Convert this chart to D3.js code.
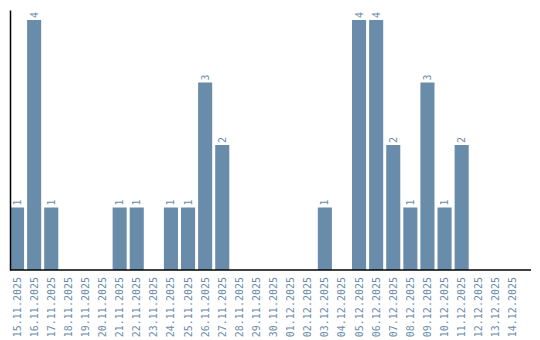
<!DOCTYPE html>
<html><head><meta charset="utf-8">
<script src="https://cdn.jsdelivr.net/npm/d3@7"></script>
<style>body{margin:0;background:#fff}svg{display:block}</style>
</head><body>
<svg id="c" width="540" height="340"></svg>
<script>
const dates = ["15.11.2025","16.11.2025","17.11.2025","18.11.2025","19.11.2025","20.11.2025","21.11.2025","22.11.2025","23.11.2025","24.11.2025","25.11.2025","26.11.2025","27.11.2025","28.11.2025","29.11.2025","30.11.2025","01.12.2025","02.12.2025","03.12.2025","04.12.2025","05.12.2025","06.12.2025","07.12.2025","08.12.2025","09.12.2025","10.12.2025","11.12.2025","12.12.2025","13.12.2025","14.12.2025"];
const counts = [1,4,1,0,0,0,1,1,0,1,1,3,2,0,0,0,0,0,1,0,4,4,2,1,3,1,2,0,0,0];

const color = "#6a8cab";
const font = "'DejaVu Sans Mono', monospace";
const svg = d3.select("#c");
const x = d3.scaleBand().domain(dates).range([10, 520]).paddingInner(3/17).paddingOuter(0).align(0);
const y = d3.scaleLinear().domain([0, 4]).range([270, 20]);

const data = dates.map((d, i) => ({d, v: counts[i]}));

svg.append("g").selectAll("rect").data(data.filter(e => e.v > 0)).join("rect")
  .attr("x", e => x(e.d)).attr("width", x.bandwidth())
  .attr("y", e => y(e.v)).attr("height", e => y(0) - y(e.v))
  .attr("fill", color);

svg.append("g").selectAll("text").data(data.filter(e => e.v > 0)).join("text")
  .attr("transform", e => `translate(${x(e.d) + x.bandwidth()/2},${y(e.v) - 2}) rotate(-90)`)
  .attr("dy", "0.35em").attr("text-anchor", "start")
  .attr("fill", color).style("font-family", font).style("font-size", "10px")
  .text(e => e.v);

// x axis
const xAxis = svg.append("g").attr("transform", "translate(0,270)")
  .call(d3.axisBottom(x).tickSize(0).tickPadding(0));
xAxis.select(".domain").remove();
xAxis.append("line").attr("x1", 10).attr("x2", 531).attr("y1", 0).attr("y2", 0)
  .attr("stroke", "#000").attr("stroke-width", 1.5);
xAxis.selectAll(".tick text")
  .attr("transform", "translate(0,7) rotate(-90)")
  .attr("text-anchor", "end").attr("x", 0).attr("y", 0).attr("dy", "0.35em")
  .attr("fill", color).style("font-family", font).style("font-size", "10px");

// y axis line
const yAxis = svg.append("g").attr("transform", "translate(10,0)")
  .call(d3.axisLeft(d3.scaleLinear().domain([0, 1]).range([270, 10])).ticks(0).tickSize(0).tickFormat(""));
yAxis.select(".domain").attr("stroke", "#000").attr("stroke-width", 1.5);
</script>
</body></html>
